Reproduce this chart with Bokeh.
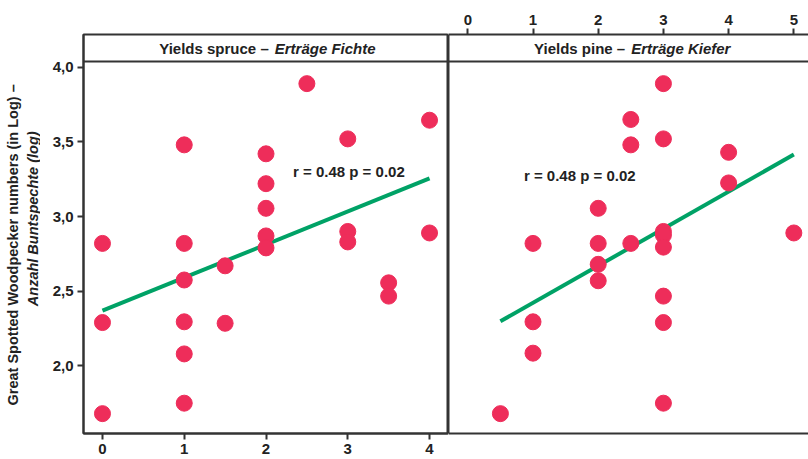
import math
from bokeh.plotting import figure
from bokeh.models import (Range1d, FixedTicker, LinearAxis, Span, Label)
from bokeh.layouts import row
from bokeh.embed import file_html
from bokeh.resources import INLINE

# ---------------- data ----------------
y_ticks = [2.0, 2.5, 3.0, 3.5, 4.0]
y_tick_labels = ["2,0", "2,5", "3,0", "3,5", "4,0"]
spruce_ticks = [0, 1, 2, 3, 4]
pine_ticks = [0, 1, 2, 3, 4, 5]

spruce_x = [2.5, 4, 1, 2, 3, 2, 2, 3, 3, 4, 0, 1, 2, 2, 1.5, 1, 3.5, 3.5, 0, 1, 1.5, 1, 1, 0]
spruce_y = [3.89, 3.645, 3.48, 3.42, 3.52, 3.22, 3.055, 2.90, 2.83, 2.89, 2.82, 2.82, 2.87, 2.79,
            2.67, 2.575, 2.556, 2.467, 2.29, 2.295, 2.285, 2.08, 1.75, 1.68]

pine_x = [3, 2.5, 2.5, 3, 4, 4, 2, 3, 5, 1, 2, 2.5, 3, 3, 2, 2, 3, 1, 3, 1, 3, 0.5]
pine_y = [3.89, 3.65, 3.48, 3.52, 3.43, 3.225, 3.055, 2.90, 2.89, 2.82, 2.82, 2.82, 2.875, 2.795,
          2.68, 2.57, 2.467, 2.295, 2.29, 2.085, 1.75, 1.68]

spruce_fit_x = [0, 4]
spruce_fit_y = [2.37, 3.255]
pine_fit_x = [0.5, 5]
pine_fit_y = [2.298, 3.415]

stats_text = "r = 0.48  p = 0.02"
spruce_title = ("Yields spruce \u2013", "Ertr\u00e4ge Fichte")
pine_title = ("Yields pine \u2013", "Ertr\u00e4ge Kiefer")
ylab1 = "Great Spotted Woodpecker numbers (in Log) \u2013"
ylab2 = "Anzahl Buntspechte (log)"

# ---------------- style ----------------
FONT = "Liberation Sans"
DOT = "#EE2D5A"
GREEN = "#00A266"
INK = "#333333"
TXT = "#222222"
Y0, Y1 = 1.547, 4.219
STRIP = 4.038
H = 459

def style_axis(ax):
    ax.axis_line_color = INK
    ax.axis_line_width = 2
    ax.major_tick_line_color = INK
    ax.major_tick_line_width = 2
    ax.major_tick_out = 6
    ax.major_tick_in = 0
    ax.minor_tick_line_color = None
    ax.major_label_text_font = FONT
    ax.major_label_text_font_style = "bold"
    ax.major_label_text_font_size = "15px"
    ax.major_label_text_color = TXT
    ax.major_label_standoff = 4

def bare_axis(ax):
    ax.axis_line_color = INK
    ax.axis_line_width = 2
    ax.ticker = FixedTicker(ticks=[])
    ax.major_tick_line_color = None
    ax.minor_tick_line_color = None
    ax.major_label_text_font_size = "0px"

def txt(**kw):
    base = dict(text_font=FONT, text_color=TXT, text_baseline="middle")
    base.update(kw)
    return Label(**base)

# ---------------- y-axis title strip (own narrow canvas) ----------------
p0 = figure(width=40, height=H, output_backend="svg", toolbar_location=None,
            x_range=Range1d(0, 40), y_range=Range1d(0, H),
            min_border_left=0, min_border_right=0, min_border_top=0, min_border_bottom=0)
p0.axis.visible = False
p0.grid.visible = False
p0.outline_line_color = None
p0.add_layout(txt(x=12, y=H - 242, text=ylab1, angle=math.pi / 2, text_align="center",
                  text_font_style="bold", text_font_size="14.5px"))
p0.add_layout(txt(x=32, y=H - 212, text=ylab2, angle=math.pi / 2, text_align="center",
                  text_font_style="bold italic", text_font_size="14.5px"))

# ---------------- left panel ----------------
p1 = figure(width=408, height=H, output_backend="svg", toolbar_location=None,
            x_range=Range1d(-0.232, 4.232), y_range=Range1d(Y0, Y1),
            min_border_left=43, min_border_right=0, min_border_top=34, min_border_bottom=26)
p1.grid.visible = False
p1.outline_line_color = INK
p1.outline_line_width = 2
style_axis(p1.xaxis[0])
style_axis(p1.yaxis[0])
p1.xaxis[0].ticker = FixedTicker(ticks=spruce_ticks)
p1.yaxis[0].ticker = FixedTicker(ticks=y_ticks)
p1.yaxis[0].major_label_overrides = {t: l for t, l in zip(y_ticks, y_tick_labels)}
p1.add_layout(Span(location=STRIP, dimension="width", line_color=INK, line_width=2))

p1.line(spruce_fit_x, spruce_fit_y, line_color=GREEN, line_width=4)
p1.scatter(spruce_x, spruce_y, size=16, fill_color=DOT, line_color=DOT, line_width=1)

p1.add_layout(txt(x=2.07, y=(STRIP + Y1) / 2, text=spruce_title[0], text_align="right",
                  x_offset=-3, text_font_style="bold", text_font_size="15px"))
p1.add_layout(txt(x=2.07, y=(STRIP + Y1) / 2, text=spruce_title[1], text_align="left",
                  x_offset=3, text_font_style="bold italic", text_font_size="15px"))
p1.add_layout(txt(x=2.33, y=3.30, text=stats_text, text_align="left",
                  text_font_style="bold", text_font_size="15px"))

# ---------------- right panel ----------------
p2 = figure(width=360, height=H, output_backend="svg", toolbar_location=None,
            x_range=Range1d(-0.296, 5.225), y_range=Range1d(Y0, Y1),
            x_axis_location="above", y_axis_location=None,
            min_border_left=0, min_border_right=0, min_border_top=34, min_border_bottom=26)
p2.grid.visible = False
p2.outline_line_color = None
style_axis(p2.xaxis[0])
p2.xaxis[0].ticker = FixedTicker(ticks=pine_ticks)
bottom = LinearAxis()
bare_axis(bottom)
p2.add_layout(bottom, "below")
left = LinearAxis()
bare_axis(left)
p2.add_layout(left, "left")
p2.add_layout(Span(location=STRIP, dimension="width", line_color=INK, line_width=2))

p2.line(pine_fit_x, pine_fit_y, line_color=GREEN, line_width=4)
p2.scatter(pine_x, pine_y, size=16, fill_color=DOT, line_color=DOT, line_width=1)

p2.add_layout(txt(x=2.46, y=(STRIP + Y1) / 2, text=pine_title[0], text_align="right",
                  x_offset=-3, text_font_style="bold", text_font_size="15px"))
p2.add_layout(txt(x=2.46, y=(STRIP + Y1) / 2, text=pine_title[1], text_align="left",
                  x_offset=3, text_font_style="bold italic", text_font_size="15px"))
p2.add_layout(txt(x=0.86, y=3.277, text=stats_text, text_align="left",
                  text_font_style="bold", text_font_size="15px"))

layout = row(p0, p1, p2, spacing=0)
open("out.html", "w").write(file_html(layout, INLINE))
